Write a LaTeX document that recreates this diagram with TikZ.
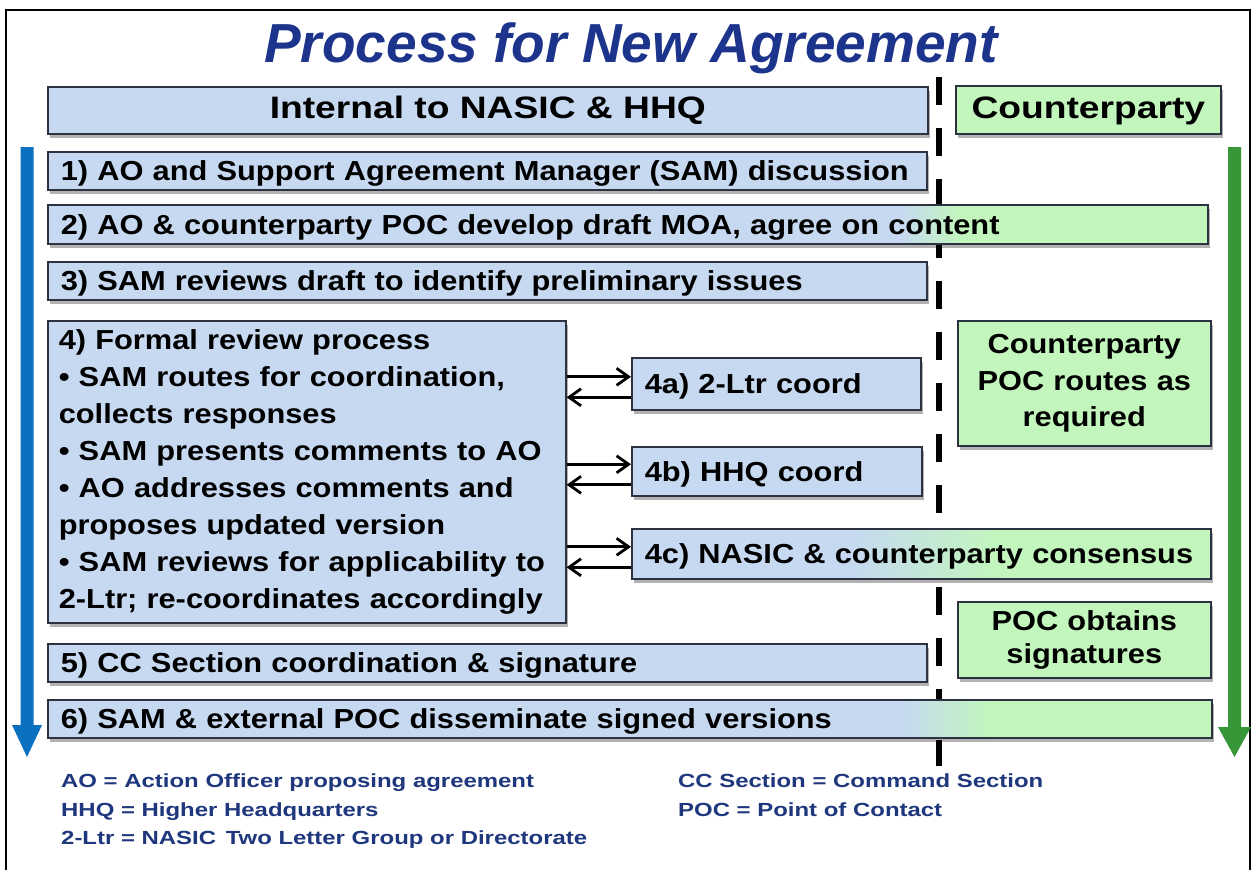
\documentclass[tikz,border=0pt]{standalone}
\usepackage{fontspec}
\setmainfont{Liberation Sans}
\newfontfamily\boxfont{Liberation Sans}[FakeStretch=1.12]
\newfontfamily\hdrfont{Liberation Sans}[FakeStretch=1.2]
\newfontfamily\legfont{Liberation Sans}[FakeStretch=1.26]
\usetikzlibrary{shadows,calc,arrows.meta}
\definecolor{cblue}{RGB}{198,217,241}
\definecolor{cgreen}{RGB}{194,246,188}
\definecolor{cborder}{RGB}{45,50,65}
\definecolor{ctitle}{RGB}{28,52,140}
\definecolor{clegend}{RGB}{31,55,125}
\definecolor{carrowblue}{RGB}{10,112,192}
\definecolor{carrowgreen}{RGB}{55,150,55}
\begin{document}
\begin{tikzpicture}[x=1pt,y=-1pt,
  boxbase/.style={draw=cborder, line width=1.6pt, fill=cblue,
    drop shadow={shadow xshift=2pt, shadow yshift=-4pt, opacity=0.3, fill=black},
    inner xsep=13pt, inner ysep=0pt, anchor=north west,
    font=\boxfont\bfseries\fontsize{27.5}{37}\selectfont},
  onebox/.style={boxbase, align=left, text height=19.7pt, text depth=0pt},
  greenbox/.style={boxbase, fill=cgreen, align=center},
  hdrbox/.style={boxbase, align=center, text height=17pt, text depth=0pt,
    font=\hdrfont\bfseries\fontsize{31}{36}\selectfont},
  gradbox/.style 2 args={path picture={
    \fill[cgreen] (path picture bounding box.south west) rectangle (path picture bounding box.north east);
    \fill[cblue] let \p1=(path picture bounding box.south west), \p2=(path picture bounding box.north east) in
      (\x1,\y1) rectangle ({\x1+#1*(\x2-\x1)},\y2);
    \shade[left color=cblue, right color=cgreen] let \p1=(path picture bounding box.south west), \p2=(path picture bounding box.north east) in
      ({\x1+#1*(\x2-\x1)},\y1) rectangle ({\x1+#2*(\x2-\x1)},\y2);
  }},
  conn/.style={line width=2.8pt, draw=black, -{Straight Barb[length=12pt,width=17pt]}},
  legend/.style={anchor=base west, inner sep=0pt, text=clegend,
    font=\legfont\bfseries\fontsize{19}{23}\selectfont},
  divider/.style={line width=6.7pt, dash pattern=on 28pt off 23pt},
]
\useasboundingbox (0,0) rectangle (1254,870);
\fill[white] (0,0) rectangle (1254,870);
% frame
\draw[line width=2pt] (6,870) -- (6,10) -- (1250,10) -- (1250,870);
% divider
\coordinate (divtop) at (939,77);
\coordinate (divbot) at (939,766);
\draw[divider] (divtop) -- (divbot);
% big flow arrows
\fill[carrowblue] (20.5,147) -- (33.5,147) -- (33.5,725) -- (42,725) -- (27,757) -- (12,725) -- (20.5,725) -- cycle;
\fill[carrowgreen] (1228,147) -- (1241,147) -- (1241,727) -- (1251,727) -- (1234.5,757) -- (1218,727) -- (1228,727) -- cycle;
% title
\node[anchor=base, inner sep=0pt, text=ctitle, font=\bfseries\itshape\fontsize{55}{60}\selectfont] (title) at (631,62) {Process for New Agreement};
% headers
\node[hdrbox, minimum width=880pt, minimum height=47pt] (hdrL) at (47,86) {Internal to NASIC \& HHQ};
\node[hdrbox, fill=cgreen, minimum width=265pt, minimum height=48pt] (hdrR) at (955,85) {Counterparty};
% steps
\node[onebox, minimum width=879pt, minimum height=38pt, text width=853pt] (b1) at (47,151) {1) AO and Support Agreement Manager (SAM) discussion};
\node[onebox, gradbox={0.735}{0.787}, minimum width=1160pt, minimum height=39pt, text width=1134pt] (b2) at (47,204) {2) AO \& counterparty POC develop draft MOA, agree on content};
\node[onebox, minimum width=879pt, minimum height=38pt, text width=853pt] (b3) at (47,261) {3) SAM reviews draft to identify preliminary issues};
\node[boxbase, align=left, inner xsep=11pt, minimum width=518pt, minimum height=302pt, text width=496pt] (b4) at (47,320) {4) Formal review process\\
• SAM routes for coordination,\\
collects responses\\
• SAM presents comments to AO\\
• AO addresses comments and\\
proposes updated version\\
• SAM reviews for applicability to\\
2-Ltr; re-coordinates accordingly};
\node[onebox, minimum width=289pt, minimum height=52pt, text width=263pt] (b4a) at (631,357) {4a) 2-Ltr coord};
\node[onebox, minimum width=290pt, minimum height=49pt, text width=264pt] (b4b) at (631,446) {4b) HHQ coord};
\node[onebox, gradbox={0.378}{0.637}, minimum width=579pt, minimum height=50pt, text width=553pt] (b4c) at (631,528) {4c) NASIC \& counterparty consensus};
\node[greenbox, minimum width=253pt, minimum height=125pt, text width=227pt, font=\boxfont\bfseries\fontsize{27.5}{36.7}\selectfont] (cpr) at (957,320) {Counterparty\\ POC routes as\\ required};
\node[onebox, minimum width=879pt, minimum height=38pt, text width=853pt] (b5) at (47,643) {5) CC Section coordination \& signature};
\node[greenbox, minimum width=253pt, minimum height=76pt, text width=227pt, font=\boxfont\bfseries\fontsize{27.5}{33}\selectfont] (cpo) at (957,601) {POC obtains\\ signatures};
\node[onebox, gradbox={0.733}{0.81}, minimum width=1164pt, minimum height=38pt, text width=1138pt] (b6) at (47,699) {6) SAM \& external POC disseminate signed versions};
% coordination arrows
\draw[conn] ([yshift=7pt]b4a.west -| b4.east) -- ([yshift=7pt]b4a.west);
\draw[conn] ([yshift=-13.5pt]b4a.west) -- ([yshift=-13.5pt]b4a.west -| b4.east);
\draw[conn] ([yshift=7pt]b4b.west -| b4.east) -- ([yshift=7pt]b4b.west);
\draw[conn] ([yshift=-13.5pt]b4b.west) -- ([yshift=-13.5pt]b4b.west -| b4.east);
\draw[conn] ([yshift=7pt]b4c.west -| b4.east) -- ([yshift=7pt]b4c.west);
\draw[conn] ([yshift=-13.5pt]b4c.west) -- ([yshift=-13.5pt]b4c.west -| b4.east);
% legend
\node[legend] (legA) at (61,787.5) {AO = Action Officer proposing agreement};
\node[legend] (legB) at (61,816) {HHQ = Higher Headquarters};
\node[legend] (legC) at (61,844.5) {2-Ltr = NASIC\hspace{3pt} Two Letter Group or Directorate};
\node[legend] (legD) at (678,787.5) {CC Section = Command Section};
\node[legend] (legE) at (678,816) {POC = Point of Contact};
\end{tikzpicture}
\end{document}
